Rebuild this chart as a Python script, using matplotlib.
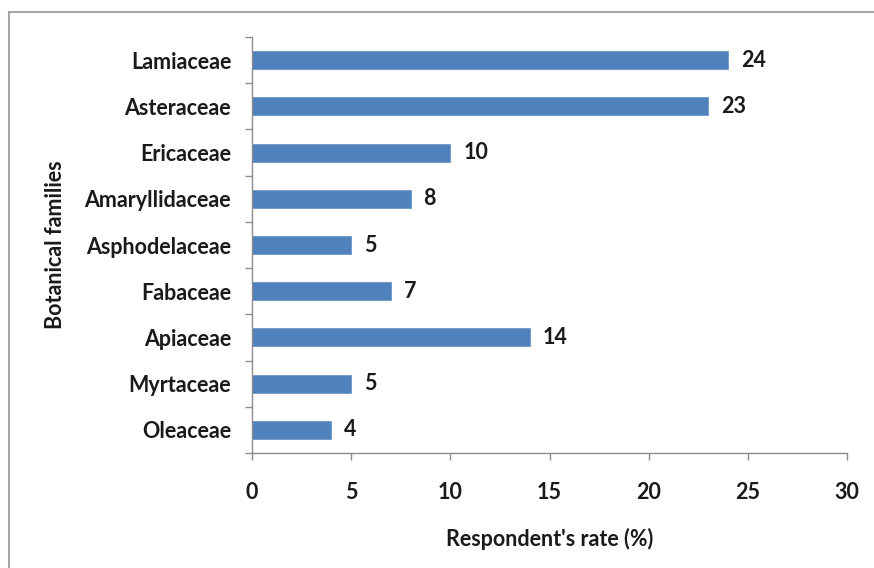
import numpy as np
import matplotlib.pyplot as plt
from matplotlib.lines import Line2D

families = ['Lamiaceae', 'Asteraceae', 'Ericaceae', 'Amaryllidaceae',
            'Asphodelaceae', 'Fabaceae', 'Apiaceae', 'Myrtaceae', 'Oleaceae']
rates = [24, 23, 10, 8, 5, 7, 14, 5, 4]
x_ticks = [0, 5, 10, 15, 20, 25, 30]

plt.rcParams['font.family'] = ['Lato', 'DejaVu Sans']
plt.rcParams['font.weight'] = 'bold'

W, H = 874, 568
fs = 15.5
txt_col = '#1a1a1a'
fig = plt.figure(figsize=(W / 100, H / 100), dpi=100)

# outer chart frame (left and top edges visible)
frame_col = '#a6a6a6'
fig.add_artist(Line2D([9 / W, 9 / W], [0, 1 - 12 / H], transform=fig.transFigure,
                      color=frame_col, lw=1.5))
fig.add_artist(Line2D([9 / W, 1], [1 - 12 / H, 1 - 12 / H], transform=fig.transFigure,
                      color=frame_col, lw=1.5))

ax = fig.add_axes([252 / W, (H - 453) / H, 595 / W, 416 / H])

n = len(families)
y = np.arange(n)
ax.barh(y, rates, height=0.39, color='#4f81bd', edgecolor='#6f97c9', linewidth=0.6)
ax.set_ylim(n - 0.5, -0.5)
ax.set_xlim(0, 30)

for yi, v in zip(y, rates):
    ax.text(v + 0.65, yi, str(v), va='center', ha='left', fontsize=fs,
            fontweight='bold', color=txt_col)

# category labels at centres, tick marks at boundaries
ax.set_yticks(y)
ax.set_yticklabels(families, fontsize=fs, fontweight='bold', color=txt_col)
ax.set_yticks(np.arange(-0.5, n, 1.0), minor=True)
ax.tick_params(axis='y', which='major', length=0, pad=15)
ax.tick_params(axis='y', which='minor', length=5, width=1, color='#8c8c8c', direction='out')

ax.set_xticks(x_ticks)
ax.set_xticklabels([str(t) for t in x_ticks], fontsize=fs, fontweight='bold', color=txt_col)
ax.tick_params(axis='x', length=5, width=1, color='#8c8c8c', direction='out', pad=16)

for side in ['top', 'right']:
    ax.spines[side].set_visible(False)
for side in ['left', 'bottom']:
    ax.spines[side].set_color('#8c8c8c')
    ax.spines[side].set_linewidth(1)

ax.set_xlabel("Respondent's rate (%)", fontsize=fs, fontweight='bold',
              color=txt_col, labelpad=18)
ax.set_ylabel('Botanical families', fontsize=fs, fontweight='bold', color=txt_col)
ax.yaxis.set_label_coords(-186 / 595, 0.5)

fig.savefig('out.png', dpi=100)
